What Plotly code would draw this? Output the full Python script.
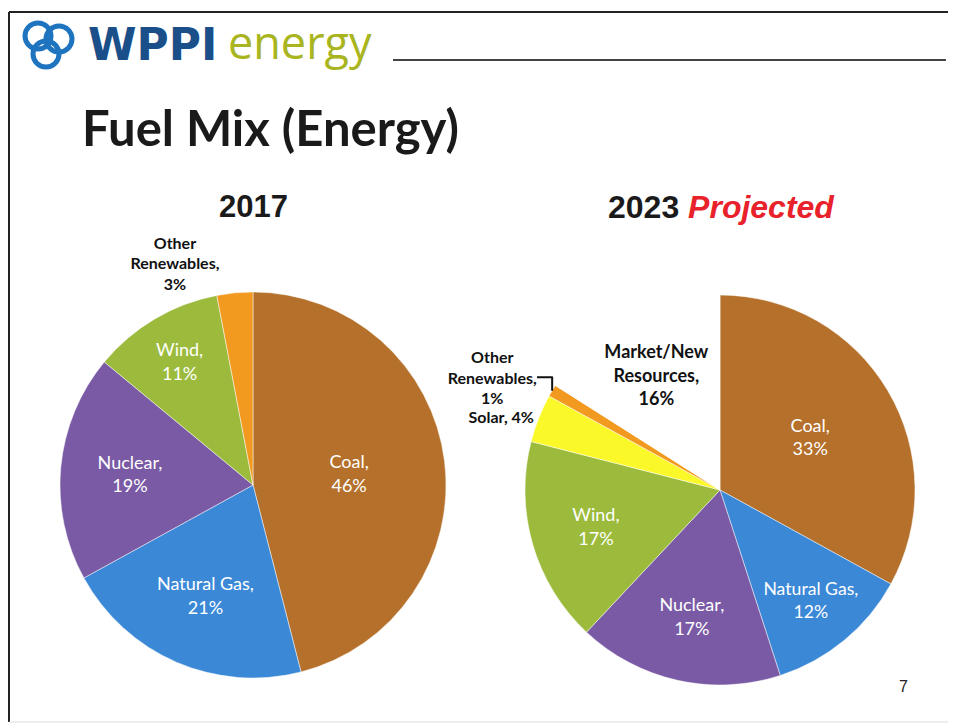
import plotly.graph_objects as go

W, H = 956, 725
OFF = 8  # page margin the browser adds around the figure

# 2017 fuel mix (percent of energy)
labels_2017 = ["Coal", "Natural Gas", "Nuclear", "Wind", "Other Renewables"]
names_2017 = ["Coal,<br>", "Natural Gas,<br>", "Nuclear,<br>", "Wind,<br>",
              "Other<br>Renewables,<br>"]
values_2017 = [46, 21, 19, 11, 3]

# 2023 projected fuel mix
labels_2023 = ["Coal", "Natural Gas", "Nuclear", "Wind", "Solar",
               "Other Renewables", "Market/New Resources"]
names_2023 = ["Coal,<br>", "Natural Gas,<br>", "Nuclear,<br>", "Wind,<br>", "Solar, ",
              "Other<br>Renewables,<br>", "Market/New<br>Resources,<br>"]
values_2023 = [33, 12, 17, 17, 4, 1, 16]

colors = {
    "Coal": "#b5712c",
    "Natural Gas": "#3a88d6",
    "Nuclear": "#7a5aa5",
    "Wind": "#9cbb3d",
    "Other Renewables": "#f29a1f",
    "Solar": "#fbf82a",
    "Market/New Resources": "#ffffff",
}


def px_x(x):
    return (x - OFF) / W


def px_y(y):
    return 1 - (y - OFF) / H


def pie(labels, names, values, x0, x1, y_top, y_bot, small):
    pos = ["outside" if lab in small else "inside" for lab in labels]
    market = [lab == "Market/New Resources" for lab in labels]
    return go.Pie(
        labels=labels,
        values=values,
        text=names,
        texttemplate="%{text}%{percent:.0%}",
        textposition=pos,
        insidetextorientation="horizontal",
        insidetextfont=dict(color=["#111111" if m else "#ffffff" for m in market],
                            weight=["bold" if m else "normal" for m in market],
                            size=18, family="Lato"),
        outsidetextfont=dict(color="#111111", size=16, family="Lato", weight="bold"),
        marker=dict(colors=[colors[l] for l in labels],
                    line=dict(color="rgba(255,255,255,0.6)", width=0.8)),
        sort=False,
        direction="clockwise",
        rotation=0,
        hoverinfo="label+percent",
        showlegend=False,
        domain=dict(x=[px_x(x0), px_x(x1)], y=[px_y(y_bot), px_y(y_top)]),
    )


fig = go.Figure()
fig.add_trace(pie(labels_2017, names_2017, values_2017, 60, 446, 292, 678,
                  {"Other Renewables"}))
fig.add_trace(pie(labels_2023, names_2023, values_2023, 525, 915, 295, 685,
                  {"Other Renewables", "Solar"}))

shapes = [
    # slide frame
    dict(type="line", x0=px_x(9), x1=px_x(970), y0=px_y(12), y1=px_y(12),
         line=dict(color="#222222", width=2)),
    dict(type="line", x0=px_x(9), x1=px_x(9), y0=px_y(12), y1=px_y(722),
         line=dict(color="#222222", width=2)),
    dict(type="line", x0=px_x(9), x1=px_x(970), y0=px_y(722), y1=px_y(722),
         line=dict(color="#dddddd", width=1)),
    # header rule
    dict(type="line", x0=px_x(393), x1=px_x(946), y0=px_y(60), y1=px_y(60),
         line=dict(color="#444444", width=2)),
]
# logo mark: three overlapping rings
for cx, cy, r in [(38, 36, 13), (59, 39, 13), (46, 54, 13)]:
    shapes.append(dict(type="circle", xref="paper", yref="paper",
                       x0=px_x(cx - r), x1=px_x(cx + r),
                       y0=px_y(cy + r), y1=px_y(cy - r),
                       line=dict(color="#1f74bf", width=5)))

annotations = [
    dict(text="<b>WPPI</b>", x=px_x(86), y=px_y(44), xanchor="left", yanchor="middle",
         font=dict(family="DejaVu Sans", size=44, color="#1b4f8a")),
    dict(text="energy", x=px_x(226), y=px_y(41), xanchor="left", yanchor="middle",
         font=dict(family="Open Sans", size=45, color="#a9b520")),
    dict(text="<b>Fuel Mix (Energy)</b>", x=px_x(80), y=px_y(127), xanchor="left",
         yanchor="middle", font=dict(family="Lato", size=49, color="#1a1a1a")),
    dict(text="<b>2017</b>", x=px_x(253), y=px_y(206), xanchor="center", yanchor="middle",
         font=dict(family="Liberation Sans", size=31, color="#1a1a1a")),
    dict(text="<b>2023 <i><span style='color:#e8212b'>Projected</span></i></b>",
         x=px_x(721), y=px_y(207), xanchor="center", yanchor="middle",
         font=dict(family="Liberation Sans", size=32, color="#1a1a1a")),
    dict(text="7", x=px_x(903), y=px_y(686), xanchor="center", yanchor="middle",
         font=dict(family="Liberation Sans", size=16, color="#222222")),
]
for a in annotations:
    a.setdefault("xref", "paper")
    a.setdefault("yref", "paper")
    a["showarrow"] = False

fig.update_layout(
    width=W,
    height=H,
    margin=dict(l=0, r=0, t=0, b=0),
    paper_bgcolor="white",
    plot_bgcolor="white",
    shapes=shapes,
    annotations=annotations,
)

fig.write_html("out.html")
